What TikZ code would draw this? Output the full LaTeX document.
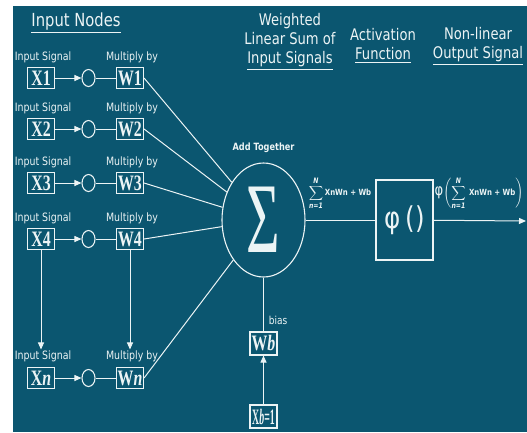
\documentclass[tikz,border=0pt]{standalone}
\usepackage{fontspec}
\usepackage{amsmath}
\usepackage{graphicx}
\usetikzlibrary{arrows.meta,shapes.geometric}

\newfontfamily\lblfont[FakeStretch=0.82]{DejaVu Sans}
\newfontfamily\boxfont[FakeStretch=0.72]{Liberation Serif}
\definecolor{netbg}{RGB}{11,86,112}
\definecolor{netfg}{RGB}{236,244,245}
\newcommand{\limtext}[1]{\mbox{\lblfont\bfseries\itshape\fontsize{7.5}{7.5}\selectfont #1}}

\tikzset{
  wire/.style={draw=netfg, line width=1pt},
  arr/.style={wire, -{Triangle[length=7pt,width=6pt]}},
  valbox/.style={draw=netfg, line width=1.1pt, text=netfg, minimum width=27pt, minimum height=21pt, inner sep=0pt, font=\boxfont\bfseries\fontsize{22}{22}\selectfont},
  junc/.style={draw=netfg, line width=1.1pt, ellipse, minimum width=13pt, minimum height=17pt, inner sep=0pt},
  lbl/.style={text=netfg, inner sep=0.75pt, font=\lblfont\fontsize{11.5}{12}\selectfont},
  head/.style={text=netfg, inner sep=0.75pt, align=center, font=\lblfont\fontsize{16}{19}\selectfont},
}

\begin{document}
\begin{tikzpicture}[x=1pt,y=1pt,yscale=-1,xscale=1]
\useasboundingbox (0,0) rectangle (527,432);
%Background
\fill [netbg] (13,6) rectangle (527,432);

% Text Node
\node (ttlin) at (76,23) [head, font=\lblfont\fontsize{18}{20}\selectfont] {\underline{Input Nodes}};
% Text Node
\node (ttlsum) at (290,42) [head] {Weighted\\Linear Sum of\\\underline{Input Signals}};
% Text Node
\node (ttlact) at (383,46) [head] {Activation\\\underline{Function}};
% Text Node
\node (ttlout) at (478,46) [head] {Non-linear\\\underline{Output Signal}};

%Row 1
\node (sx1) at (43,57) [lbl] {Input Signal};
\node (x1) at (41,78) [valbox] {X1};
\node (j1) at (88.5,78) [junc] {};
\node (mw1) at (132,57) [lbl] {Multiply by};
\node (w1) at (130,78) [valbox] {W1};
%Row 2
\node (sx2) at (43,108) [lbl] {Input Signal};
\node (x2) at (41,129) [valbox] {X2};
\node (j2) at (88.5,129) [junc] {};
\node (mw2) at (132,108) [lbl] {Multiply by};
\node (w2) at (130,129) [valbox] {W2};
%Row 3
\node (sx3) at (43,162) [lbl] {Input Signal};
\node (x3) at (41,183) [valbox] {X3};
\node (j3) at (88.5,183) [junc] {};
\node (mw3) at (132,162) [lbl] {Multiply by};
\node (w3) at (130,183) [valbox] {W3};
%Row 4
\node (sx4) at (43,218) [lbl] {Input Signal};
\node (x4) at (41,239) [valbox] {X4};
\node (j4) at (88.5,239) [junc] {};
\node (mw4) at (132,218) [lbl] {Multiply by};
\node (w4) at (130,239) [valbox] {W4};
%Row n
\node (sxn) at (43,356) [lbl] {Input Signal};
\node (xn) at (41,378) [valbox] {X\textit{n}};
\node (jn) at (88.5,378) [junc] {};
\node (mwn) at (132,356) [lbl] {Multiply by};
\node (wn) at (130,378) [valbox] {W\textit{n}};

%Summing node
\node (sigma) at (263.5,220) [ellipse, draw=netfg, line width=1.1pt, text=netfg, minimum width=83pt, minimum height=114pt, inner sep=0pt] {\scalebox{0.8}[1]{\boxfont\fontsize{100}{100}\selectfont Σ}};
% Text Node
\node (addt) at (263.5,148) [lbl, font=\lblfont\bfseries\fontsize{10}{10}\selectfont] {Add Together};

%Activation box
\node (phi) at (404.5,220) [draw=netfg, line width=1.1pt, text=netfg, minimum width=57pt, minimum height=80pt, inner sep=0pt, font=\lblfont\fontsize{30}{30}\selectfont] {φ\,()};
\coordinate (outend) at (526,221);

%Bias
\node (biasl) at (278,320) [lbl, font=\lblfont\fontsize{11}{11}\selectfont] {bias};
\node (wb) at (263.5,343.5) [valbox, minimum height=23pt] {W\textit{b}};
\node (xb) at (263.5,416.5) [valbox, minimum height=23pt] {\scalebox{0.62}[1]{X\textit{b}=1}};

% Text Node
\node (sumlbl) at (340,193) [text=netfg, inner sep=0.75pt, font=\fontsize{10}{10}\selectfont] {$\displaystyle\sum_{\limtext{n=1}}^{\limtext{N}}$\,{\lblfont\bfseries\fontsize{8.5}{8.5}\selectfont XnWn + Wb}};
% Text Node
\node (outlbl) at (479,193) [text=netfg, inner sep=0.75pt, font=\fontsize{10}{10}\selectfont] {{\lblfont\fontsize{16}{16}\selectfont φ}$\left(\displaystyle\sum_{\limtext{n=1}}^{\limtext{N}}\,\mbox{\lblfont\bfseries\fontsize{8.5}{8.5}\selectfont XnWn + Wb}\right)$};

%Straight Lines
\draw [arr] (x1) -- (j1);
\draw [wire] (j1) -- (w1);
\draw [arr] (x2) -- (j2);
\draw [wire] (j2) -- (w2);
\draw [arr] (x3) -- (j3);
\draw [wire] (j3) -- (w3);
\draw [arr] (x4) -- (j4);
\draw [wire] (j4) -- (w4);
\draw [arr] (xn) -- (jn);
\draw [wire] (jn) -- (wn);
%Straight Lines
\draw [arr] (x4.south) -- (x4.south |- sxn.north);
\draw [arr] (w4.south) -- (w4.south |- mwn.north);
%Straight Lines
\draw [wire] (w1.east) -- (sigma);
\draw [wire] (w2.east) -- (sigma);
\draw [wire] (w3.east) -- (sigma);
\draw [wire] (w4.east) -- (sigma);
\draw [wire] (wn.east) -- (sigma);
%Straight Lines
\draw [wire] (sigma) -- (phi);
\draw [arr] (phi) -- (outend);
\draw [wire] (sigma) -- (wb);
\draw [arr] (xb) -- (wb);

\end{tikzpicture}
\end{document}
